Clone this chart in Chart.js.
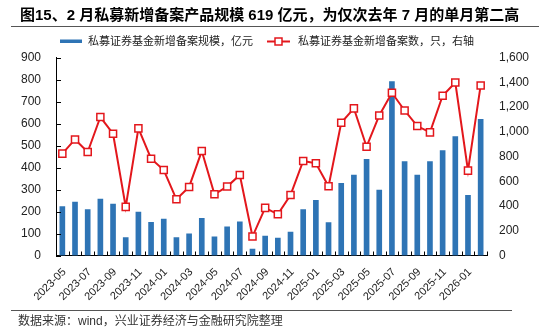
<!DOCTYPE html>
<html>
<head>
<meta charset="utf-8">
<script src="https://cdn.jsdelivr.net/npm/chart.js@4"></script>
<style>
  html, body { margin: 0; padding: 0; background: #fff; }
  #wrap { width: 550px; height: 334px; position: relative; }
</style>
</head>
<body>
<div id="wrap"><canvas id="c" width="550" height="334"></canvas></div>
<script>
// Monthly categories
const months = [
  '2023-05','2023-06','2023-07','2023-08','2023-09','2023-10','2023-11','2023-12',
  '2024-01','2024-02','2024-03','2024-04','2024-05','2024-06','2024-07','2024-08',
  '2024-09','2024-10','2024-11','2024-12','2025-01','2025-02','2025-03','2025-04',
  '2025-05','2025-06','2025-07','2025-08','2025-09','2025-10','2025-11','2025-12',
  '2026-01','2026-02'
];
// New filing scale, 100 million yuan (left axis)
const scaleValues = [
  222, 243, 209, 257, 234, 82, 197, 151,
  166, 82, 98, 169, 85, 130, 153, 29,
  88, 79, 107, 209, 251, 150, 328, 366,
  437, 297, 791, 427, 365, 427, 477, 540,
  274, 619
];
// New filing count (right axis)
const countValues = [
  823, 938, 836, 1119, 984, 393, 1027, 782,
  691, 454, 554, 844, 495, 557, 651, 153,
  385, 333, 489, 764, 745, 559, 1073, 1189,
  879, 1132, 1315, 1172, 1046, 995, 1291, 1398,
  686, 1374
];
const leftTicks = [0, 100, 200, 300, 400, 500, 600, 700, 800, 900];
const rightTicks = [0, 200, 400, 600, 800, 1000, 1200, 1400, 1600];

const titleText = '图15、2 月私募新增备案产品规模 619 亿元，为仅次去年 7 月的单月第二高';
const barLabel = '私募证券基金新增备案规模，亿元';
const lineLabel = '私募证券基金新增备案数，只，右轴';
const sourceText = '数据来源：wind，兴业证券经济与金融研究院整理';

const BLUE = '#2E74B5';
const RED = '#E3171C';
const FONT = 'Arial, "Liberation Sans", "Noto Sans CJK SC", sans-serif';

// Title, rules, legend, footer and inward tick marks
const decor = {
  id: 'decor',
  afterDraw(chart) {
    const ctx = chart.ctx;
    const x = chart.scales.x, y = chart.scales.y;
    const area = chart.chartArea;
    ctx.save();

    // title
    ctx.fillStyle = '#000';
    ctx.font = 'bold 15px ' + FONT;
    ctx.textBaseline = 'middle';
    ctx.textAlign = 'left';
    ctx.fillText(titleText, 20, 16);

    // rules
    ctx.strokeStyle = '#555';
    ctx.lineWidth = 1;
    ctx.beginPath();
    ctx.moveTo(11, 26.5); ctx.lineTo(539, 26.5);
    ctx.moveTo(11, 310.5); ctx.lineTo(512, 310.5);
    ctx.stroke();

    // legend
    ctx.font = '11px ' + FONT;
    ctx.fillStyle = BLUE;
    ctx.fillRect(60, 39.5, 22, 3.5);
    ctx.fillStyle = '#222';
    ctx.fillText(barLabel, 88, 41.5);
    ctx.strokeStyle = RED;
    ctx.lineWidth = 2;
    ctx.beginPath();
    ctx.moveTo(267, 41.5); ctx.lineTo(290, 41.5);
    ctx.stroke();
    ctx.fillStyle = '#fff';
    ctx.fillRect(275, 38, 7, 7);
    ctx.lineWidth = 1.5;
    ctx.strokeRect(275, 38, 7, 7);
    ctx.fillStyle = '#222';
    ctx.fillText(lineLabel, 298, 41.5);

    // footer
    ctx.font = '12px ' + FONT;
    ctx.fillStyle = '#333';
    ctx.fillText(sourceText, 18, 322);

    // inward ticks
    ctx.strokeStyle = '#000';
    ctx.lineWidth = 1;
    ctx.beginPath();
    leftTicks.forEach(v => {
      const py = Math.round(y.getPixelForValue(v)) + 0.5;
      ctx.moveTo(area.left, py); ctx.lineTo(area.left + 5, py);
    });
    for (let i = 0; i <= months.length; i++) {
      const px = Math.round(x.getPixelForValue(i - 0.5)) + 0.5;
      ctx.moveTo(px, area.bottom); ctx.lineTo(px, area.bottom - 4);
    }
    ctx.stroke();
    ctx.restore();
  }
};

new Chart(document.getElementById('c'), {
  data: {
    labels: months,
    datasets: [
      {
        type: 'line',
        label: lineLabel,
        data: countValues,
        yAxisID: 'y1',
        borderColor: RED,
        borderWidth: 2,
        backgroundColor: '#fff',
        pointStyle: 'rect',
        pointRadius: 5,
        pointBorderWidth: 1.5,
        pointBorderColor: RED,
        pointBackgroundColor: '#fff',
        tension: 0,
        order: 0
      },
      {
        type: 'bar',
        label: barLabel,
        data: scaleValues,
        yAxisID: 'y',
        backgroundColor: BLUE,
        barThickness: 5,
        order: 1
      }
    ]
  },
  options: {
    responsive: false,
    animation: false,
    devicePixelRatio: 1,
    layout: { padding: { top: 57.5, bottom: 28.5, left: 0, right: 0 } },
    plugins: {
      legend: { display: false },
      title: { display: false },
      tooltip: { enabled: false }
    },
    scales: {
      x: {
        offset: true,
        grid: { display: false, drawTicks: false },
        border: { display: true, color: '#000', width: 1 },
        ticks: {
          autoSkip: false,
          minRotation: 45,
          maxRotation: 45,
          padding: 10,
          labelOffset: 2,
          color: '#222',
          font: { size: 11, family: FONT },
          callback: (v, i) => (i % 2 === 0 ? months[i] : '')
        },
        afterFit: s => { s.height = 50; }
      },
      y: {
        position: 'left',
        min: 0, max: 900,
        grid: { display: false, drawTicks: false },
        border: { display: true, color: '#000', width: 1 },
        afterBuildTicks: s => { s.ticks = leftTicks.map(v => ({ value: v })); },
        ticks: {
          padding: 15,
          color: '#222',
          font: { size: 12, family: FONT }
        },
        afterFit: s => { s.width = 56; }
      },
      y1: {
        position: 'right',
        min: 0, max: 1600,
        grid: { display: false, drawTicks: false },
        border: { display: false },
        afterBuildTicks: s => { s.ticks = rightTicks.map(v => ({ value: v })); },
        ticks: {
          padding: 12,
          color: '#222',
          font: { size: 12, family: FONT },
          callback: v => v.toLocaleString('en-US')
        },
        afterFit: s => { s.width = 63; }
      }
    }
  },
  plugins: [decor]
});
</script>
</body>
</html>
